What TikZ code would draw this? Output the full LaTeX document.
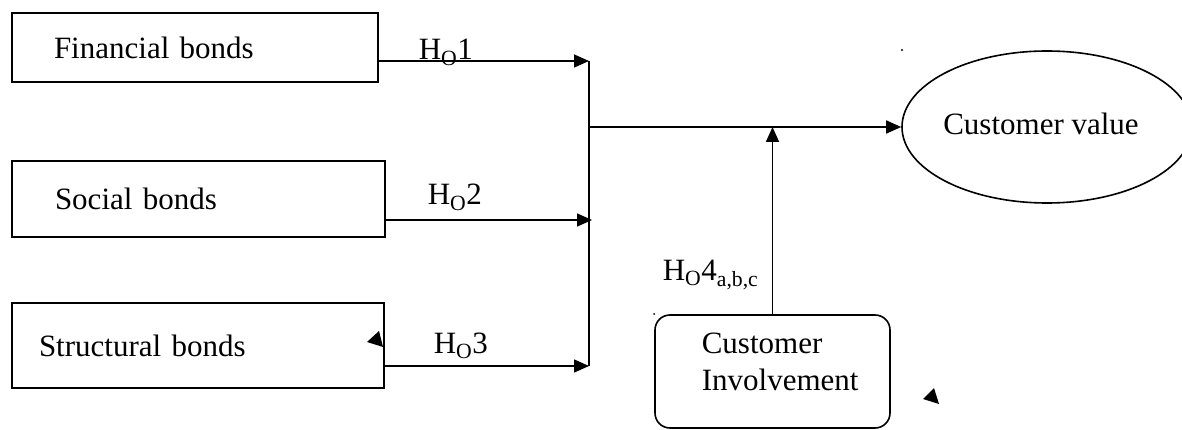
\documentclass[tikz,border=0pt]{standalone}
\usepackage{fontspec}
\setmainfont{Liberation Serif}
\usetikzlibrary{arrows.meta,shapes.geometric}

\begin{document}
\begin{tikzpicture}[x=1pt,y=-1pt,line width=1.6pt,font=\fontsize{31}{37}\selectfont,
  bondbox/.style={draw,rectangle,align=left,minimum height=#1,inner ysep=0pt},
  tip/.style={-{Triangle[length=15pt,width=13pt]}},
  hyp/.style={anchor=base west,inner sep=0pt}]
\useasboundingbox (0,0) rectangle (1182,430);
\clip (0,0) rectangle (1182,430);
\node[bondbox=69pt,text width=282pt,inner xsep=42pt] (fin) at (195,47.5) {Financial bonds};
\node[bondbox=76pt,text width=287pt,inner xsep=43pt] (soc) at (198.5,199) {Social bonds};
\node[bondbox=85pt,text width=318pt,inner xsep=27pt] (str) at (198,345.5) {Structural bonds};
\node[draw,ellipse,minimum width=290pt,minimum height=152pt,inner sep=0pt] (val) at (1047,127) {};
\node[inner sep=0pt] (valtext) at (1041,124) {Customer value};
\node[draw,rounded corners=15pt,minimum width=235pt,minimum height=113pt] (inv) at (772.5,371.5) {};
\node[anchor=west,align=left,inner sep=0pt] (invtext) at (701,361.5) {Customer\\Involvement};
\coordinate (j1) at (589,61);
\coordinate (j2) at (592,220);
\coordinate (j3) at (589,366);
\coordinate (jm) at (589,127);
\draw[tip] (fin.east |- j1) -- (j1);
\draw[tip] (soc.east |- j2) -- (j2);
\draw[tip] (str.east |- j3) -- (j3);
\draw (j1) -- (j3);
\draw[tip] (jm) -- (val.west);
\draw[tip] (inv.north) -- (inv.north |- jm);
\node[hyp] (h1) at (418,60) {H\textsubscript{O}1};
\node[hyp] (h2) at (427,205) {H\textsubscript{O}2};
\node[hyp] (h3) at (433,353) {H\textsubscript{O}3};
\node[hyp] (h4) at (662,280) {H\textsubscript{O}4\textsubscript{a,b,c}};
\fill (367,342) -- (379,331) -- (383,347) -- cycle;
\fill (923,399) -- (934,388) -- (939,404) -- cycle;
\fill (902,50) circle (1.2);
\fill (654,314) circle (1);
\end{tikzpicture}
\end{document}
